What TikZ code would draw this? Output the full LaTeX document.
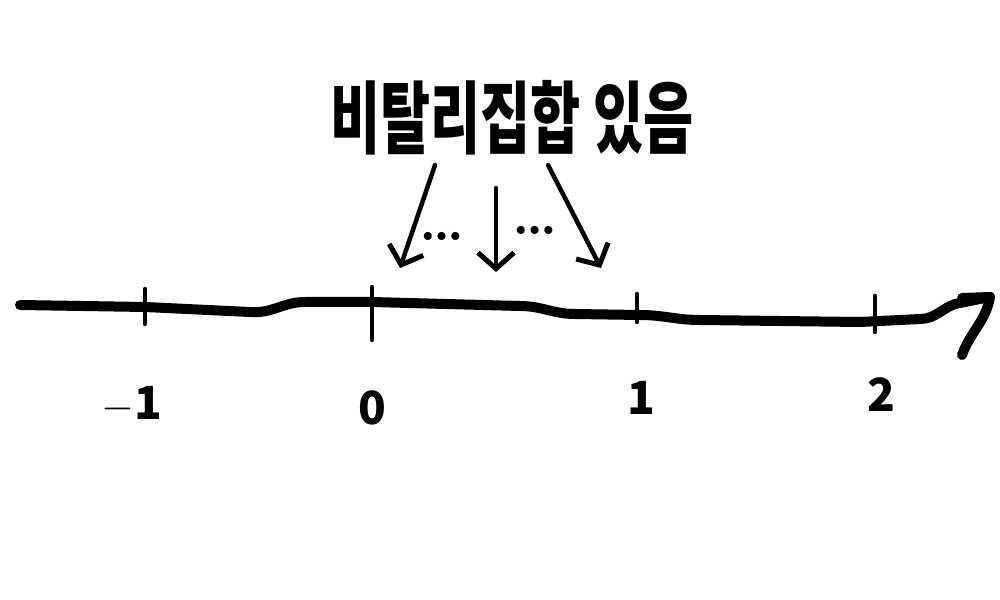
\documentclass[tikz,border=0pt]{standalone}
\usepackage{fontspec}
\newfontfamily\kr{Noto Sans CJK KR}
\usetikzlibrary{arrows.meta, positioning}
\tikzset{
  axisline/.style={line width=1mm, line cap=round, line join=round},
  tickmark/.style={line width=0.45mm, line cap=round},
  pointer/.style={line width=0.45mm, line cap=round, -{Straight Barb[length=1.6mm, width=3.6mm, line width=0.5mm]}},
  ticklabel/.style={font=\kr\bfseries\fontsize{13}{13}\selectfont},
  dotsnode/.style={font=\bfseries\fontsize{16}{16}\selectfont, anchor=base, inner sep=0pt}
}

\begin{document}
\begin{tikzpicture}[x=0.1mm, y=-0.1mm]
\useasboundingbox (0,0) rectangle (1000,600);
\node[font=\kr\bfseries\fontsize{15.5}{16}\selectfont] (title) at (512,118) {\scalebox{1}[1.45]{비탈리집합 있음}};
% arrows into the line
\coordinate (s1) at (435,165); \coordinate (t1) at (400,268);
\coordinate (s2) at (496,188); \coordinate (t2) at (496,272);
\coordinate (s3) at (548,165); \coordinate (t3) at (601,268);
\draw[pointer] (s1) -- (t1);
\draw[pointer] (s2) -- (t2);
\draw[pointer] (s3) -- (t3);
\node[dotsnode] (dots1) at (442,241) {\ldots};
\node[dotsnode] (dots2) at (535,235) {\ldots};
% number line
\coordinate (start) at (20,305);
\coordinate (tip) at (990,297);
\draw[axisline] (start) -- (145,307) -- (250,312) to[out=-5,in=180] (305,302) -- (372,302) -- (520,306) to[out=0,in=180] (575,314) -- (640,315) to[out=0,in=180] (700,320) -- (860,322) -- (920,319) to[out=0,in=200] (955,304) -- (tip);
\draw[axisline] (962,298) -- (tip) to[out=260,in=70] (962,355);
\foreach \x/\a/\b/\lx/\ly/\t [count=\i] in {145/289/324/132/405/$-$1, 372/287/340/372/408/0, 637/294/322/641/398/1, 875/296/332/881/395/2}
{
  \draw[tickmark] (\x,\a) -- (\x,\b);
  \node[ticklabel] (lbl\i) at (\lx,\ly) {\t};
}
\end{tikzpicture}
\end{document}
